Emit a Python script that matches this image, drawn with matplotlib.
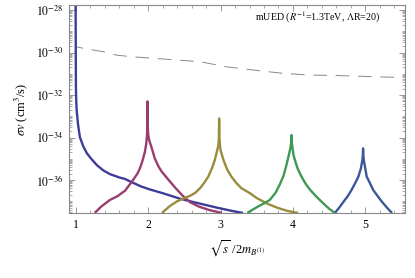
"""Annihilation cross section vs sqrt(s)/2m for mUED KK resonances."""

import numpy as np
import matplotlib
matplotlib.use("Agg")
import matplotlib.pyplot as plt
from matplotlib.ticker import FixedLocator, MultipleLocator, LogLocator, NullFormatter

plt.rcParams["font.family"] = ["Liberation Serif", "DejaVu Serif"]
plt.rcParams["mathtext.fontset"] = "stix"

# curves: x = sqrt(s)/2m, values are log10(sigma v)
x_n1 = [0.996, 0.998, 1.0, 1.005, 1.01, 1.03, 1.055, 1.1, 1.15, 1.2, 1.29, 1.38,
        1.47, 1.6, 1.68, 1.77, 1.9, 2.0, 2.2, 2.44, 2.58, 2.8, 2.95, 3.15, 3.31]
y_n1 = [-27.6, -30.0, -31.6, -32.3, -32.7, -33.4, -33.98, -34.4, -34.73, -34.95,
        -35.3, -35.55, -35.72, -35.88, -35.95, -36.1, -36.3, -36.42, -36.62, -36.88,
        -37.0, -37.18, -37.3, -37.45, -37.55]

x_n2 = [1.26, 1.35, 1.47, 1.58, 1.68, 1.79, 1.85, 1.885, 1.92, 1.954, 1.972, 1.983,
        1.988, 1.99, 1.992, 1.997, 2.005, 2.02, 2.04, 2.09, 2.14, 2.185, 2.27, 2.37,
        2.47, 2.58, 2.7, 2.85, 3.02]
y_n2 = [-37.55, -37.25, -36.94, -36.75, -36.5, -36.0, -35.7, -35.45, -35.1, -34.67,
        -34.3, -33.9, -33.3, -32.3, -33.3, -33.75, -34.0, -34.2, -34.4, -34.98,
        -35.35, -35.6, -35.95, -36.35, -36.72, -37.05, -37.25, -37.42, -37.55]

x_n3 = [2.19, 2.3, 2.4, 2.5, 2.58, 2.65, 2.715, 2.77, 2.83, 2.88, 2.92, 2.95, 2.97,
        2.977, 2.98, 2.983, 2.99, 3.0, 3.04, 3.09, 3.15, 3.22, 3.29, 3.41, 3.5, 3.65,
        3.78, 3.92, 4.07]
y_n3 = [-37.55, -37.22, -37.0, -36.85, -36.74, -36.6, -36.39, -36.15, -35.84,
        -35.45, -35.06, -34.65, -34.35, -34.0, -33.1, -34.0, -34.3, -34.6, -35.06,
        -35.5, -35.84, -36.15, -36.39, -36.63, -36.85, -37.12, -37.3, -37.45, -37.55]

x_n4 = [3.37, 3.5, 3.6, 3.68, 3.76, 3.82, 3.87, 3.91, 3.945, 3.968, 3.977, 3.98,
        3.983, 3.992, 4.01, 4.04, 4.07, 4.12, 4.18, 4.24, 4.33, 4.42, 4.5, 4.58]
y_n4 = [-37.55, -37.28, -37.1, -36.94, -36.6, -36.2, -35.8, -35.3, -34.8, -34.45,
        -34.2, -33.88, -34.2, -34.45, -34.85, -35.2, -35.5, -35.85, -36.2, -36.47,
        -36.8, -37.1, -37.35, -37.55]

x_n5 = [4.58, 4.64, 4.7, 4.76, 4.81, 4.86, 4.905, 4.94, 4.96, 4.967, 4.97, 4.973,
        4.98, 5.0, 5.02, 5.065, 5.11, 5.17, 5.23, 5.3, 5.37]
y_n5 = [-37.55, -37.3, -37.02, -36.75, -36.47, -36.15, -35.84, -35.45, -35.06,
        -34.8, -34.51, -34.8, -35.06, -35.45, -35.84, -36.15, -36.47, -36.75, -37.02,
        -37.3, -37.55]

# dashed reference line
x_ref = [1.0, 1.005, 1.1, 1.24, 1.38, 1.56, 1.79, 2.2, 2.72, 3.08, 3.45, 3.87,
         4.24, 4.6, 5.16, 5.48]
y_ref = [-29.4, -29.72, -29.8, -29.88, -29.96, -30.12, -30.2, -30.3, -30.43,
         -30.67, -30.82, -30.98, -31.06, -31.08, -31.14, -31.17]

curves = [(x_n1, y_n1), (x_n2, y_n2), (x_n3, y_n3), (x_n4, y_n4), (x_n5, y_n5)]
colors = ["#3d3d99", "#993d70", "#998c3d", "#3d9954", "#3d5799"]

x_ticks = [1, 2, 3, 4, 5]
y_tick_exps = [-36, -34, -32, -30, -28]

fig = plt.figure(figsize=(4.15, 2.78), dpi=100)
ax = fig.add_axes([0.166, 0.234, 0.81, 0.748])

ax.plot(x_ref, 10.0 ** np.array(y_ref), color="#888888", lw=0.7,
        dashes=(14, 9))
for (xs, ys), c in zip(curves, colors):
    ax.plot(xs, 10.0 ** np.array(ys), color=c, lw=1.7,
            solid_joinstyle="round", solid_capstyle="butt")

ax.set_yscale("log")
ax.set_xlim(0.903, 5.55)
ax.set_ylim(10 ** -37.55, 10 ** -27.76)

ax.xaxis.set_major_locator(FixedLocator(x_ticks))
ax.xaxis.set_minor_locator(MultipleLocator(0.2))
ax.yaxis.set_major_locator(FixedLocator([10.0 ** e for e in y_tick_exps]))
ax.set_yticklabels([rf"$10^{{{e}}}$" for e in y_tick_exps])
ax.yaxis.set_minor_locator(LogLocator(base=10, subs=np.arange(1, 10), numticks=30))
ax.yaxis.set_minor_formatter(NullFormatter())

for s in ax.spines.values():
    s.set_color("#888888")
    s.set_linewidth(0.8)
ax.tick_params(which="both", direction="in", top=True, right=True,
               color="#888888", labelsize=8.5, pad=4)
ax.tick_params(which="major", length=4, width=0.6)
ax.tick_params(which="minor", length=2, width=0.5)

ax.set_xlabel(r"$\sqrt{s}$ /2$m_{B^{(1)}}$", fontsize=9, labelpad=6)
ax.set_ylabel(r"$\sigma v$ (cm$^3$/s)", fontsize=9, labelpad=4)

ax.text(0.926, 0.942, r"mUED ($R^{-1}$=1.3TeV, $\Lambda$R=20)",
        transform=ax.transAxes, ha="right", va="center", fontsize=7.2)

fig.savefig("out.png", dpi=100)
